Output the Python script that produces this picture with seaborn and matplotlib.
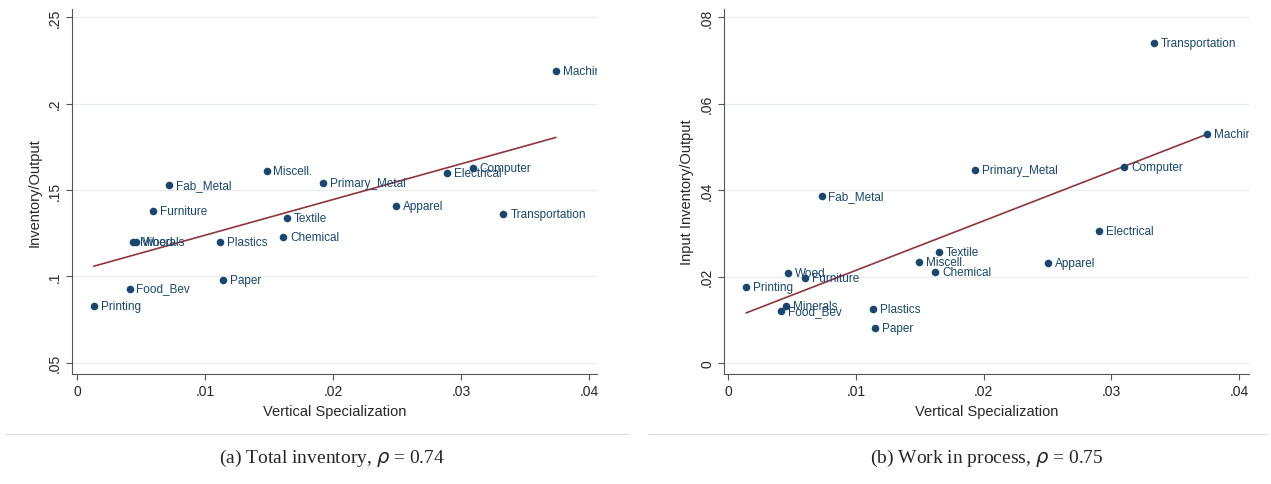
import matplotlib
matplotlib.use("Agg")
import matplotlib.pyplot as plt
import seaborn as sns
import numpy as np
import pandas as pd

sns.set_style("white")
plt.rcParams['font.family'] = ['Liberation Sans', 'DejaVu Sans']

industries = ["Printing", "Food_Bev", "Minerals", "Wood", "Furniture", "Fab_Metal",
              "Paper", "Plastics", "Miscell.", "Chemical", "Textile", "Primary_Metal",
              "Apparel", "Electrical", "Computer", "Transportation", "Machinery"]
vs_left = [.0013, .0041, .0044, .0046, .0059, .0072, .0114, .0112, .0148, .0161,
           .0164, .0192, .0249, .0289, .0309, .0333, .0374]
inv_output = [.083, .093, .120, .120, .138, .153, .098, .120, .161, .123,
              .134, .154, .141, .160, .163, .136, .219]
vs_right = [.0014, .0041, .0045, .0047, .0060, .0073, .0115, .0113, .0149, .0162,
            .0165, .0193, .0250, .0290, .0310, .0333, .0375]
wip_output = [.0176, .0120, .0132, .0208, .0197, .0386, .0081, .0125, .0234, .0210,
              .0257, .0446, .0231, .0305, .0453, .0740, .0529]

navy = "#1a476f"
red = "#90353b"

fig = plt.figure(figsize=(12.71, 4.85), dpi=100)
ax1 = fig.add_axes([0.0566, 0.227, 0.413, 0.752])
ax2 = fig.add_axes([0.570, 0.227, 0.413, 0.752])

panels = [
    (ax1, vs_left, inv_output, "Inventory/Output", [.05, .1, .15, .2, .25],
     [".05", ".1", ".15", ".2", ".25"], (.0436, .2546), (-0.0004, .0406)),
    (ax2, vs_right, wip_output, "Input Inventory/Output", [0, .02, .04, .06, .08],
     ["0", ".02", ".04", ".06", ".08"], (-.0025, .0818), (-0.0003, .0408)),
]

for ax, xs, ys, ylab, yt, ytl, ylim, xlim in panels:
    df = pd.DataFrame({"x": xs, "y": ys, "name": industries})
    sns.regplot(data=df, x="x", y="y", ax=ax, ci=None, truncate=True,
                scatter_kws=dict(color=navy, s=30, alpha=1, linewidths=0, zorder=3),
                line_kws=dict(color=red, lw=1.2, zorder=2))
    for _, r in df.iterrows():
        ax.annotate(r["name"], (r["x"], r["y"]), xytext=(5, 0), textcoords="offset points",
                    va="center", ha="left", fontsize=8.5, color=navy, annotation_clip=True,
                    clip_on=True)
    ax.set_xlim(*xlim)
    ax.set_ylim(*ylim)
    ax.set_xticks([0, .01, .02, .03, .04])
    ax.set_xticklabels(["0", ".01", ".02", ".03", ".04"], fontsize=10)
    ax.set_yticks(yt)
    ax.set_yticklabels(ytl, fontsize=10, rotation=90, va="center")
    ax.tick_params(axis="both", length=4, color="#555555", direction="out", left=True, bottom=True)
    ax.yaxis.grid(True, color="#e8eef0", lw=0.9)
    ax.set_axisbelow(True)
    ax.set_xlabel("Vertical Specialization", fontsize=10.5)
    ax.set_ylabel(ylab, fontsize=10.5)
    for s in ["top", "right"]:
        ax.spines[s].set_visible(False)
    for s in ["left", "bottom"]:
        ax.spines[s].set_color("#555555")
        ax.spines[s].set_linewidth(0.8)

# separators under each panel
fig.add_artist(plt.Line2D([0.005, 0.495], [0.103, 0.103], color="#dddddd", lw=0.8))
fig.add_artist(plt.Line2D([0.51, 0.998], [0.103, 0.103], color="#dddddd", lw=0.8))

fig.text(0.2615, 0.045, r"(a) Total inventory, $\rho$ = 0.74", ha="center", fontsize=14,
         family=["Liberation Serif", "DejaVu Serif"])
fig.text(0.7765, 0.045, r"(b) Work in process, $\rho$ = 0.75", ha="center", fontsize=14,
         family=["Liberation Serif", "DejaVu Serif"])

fig.savefig("out.png", dpi=100)
